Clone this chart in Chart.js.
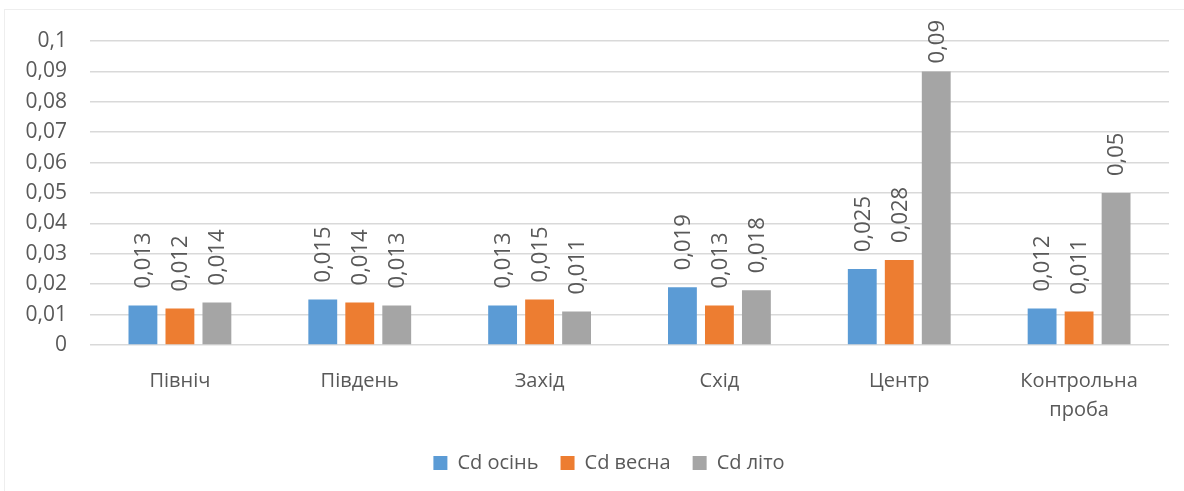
<!DOCTYPE html>
<html>
<head>
<meta charset="utf-8">
<script src="https://cdn.jsdelivr.net/npm/chart.js@4.4.0/dist/chart.umd.min.js"></script>
<style>
  html, body { margin: 0; padding: 0; background: #ffffff; }
  #wrap { width: 1184px; height: 491px; position: relative; }
</style>
</head>
<body>
<div id="wrap"><canvas id="c" width="1184" height="491"></canvas></div>
<script>
const categories = ["Північ", "Південь", "Захід", "Схід", "Центр", ["Контрольна", "проба"]];
const seriesNames = ["Cd осінь", "Cd весна", "Cd літо"];
const autumn = [0.013, 0.015, 0.013, 0.019, 0.025, 0.012];
const spring = [0.012, 0.014, 0.015, 0.013, 0.028, 0.011];
const summer = [0.014, 0.013, 0.011, 0.018, 0.09, 0.05];
const yMin = 0, yMax = 0.1, yStep = 0.01;

const colors = ["#5B9BD5", "#ED7D31", "#A5A5A5"];
const textColor = "#595959";
const fontFamily = "'Open Sans', 'Noto Sans', sans-serif";

function fmt(v) {
  return String(parseFloat(v.toFixed(3))).replace('.', ',');
}

const frame = {
  id: 'frame',
  beforeDraw(chart) {
    const ctx = chart.ctx;
    ctx.save();
    ctx.fillStyle = '#ffffff';
    ctx.fillRect(0, 0, chart.width, chart.height);
    ctx.strokeStyle = '#eeeeee';
    ctx.lineWidth = 1;
    ctx.strokeRect(4.5, 9.5, chart.width + 10, chart.height + 10);
    ctx.restore();
  }
};

const legendShift = {
  id: 'legendShift',
  afterLayout(chart) {
    if (chart.legend) {
      chart.legend.left += 22;
      chart.legend.right += 22;
    }
  }
};

const valueLabels = {
  id: 'valueLabels',
  afterDatasetsDraw(chart) {
    const ctx = chart.ctx;
    ctx.save();
    ctx.font = "22px " + fontFamily;
    ctx.fillStyle = textColor;
    ctx.textAlign = 'left';
    ctx.textBaseline = 'middle';
    chart.data.datasets.forEach((ds, di) => {
      const meta = chart.getDatasetMeta(di);
      meta.data.forEach((bar, i) => {
        const txt = fmt(ds.data[i]);
        const w = ctx.measureText(txt).width;
        let start = bar.y - 17;
        if (start - w < 20) start = 20 + w;
        ctx.save();
        ctx.translate(bar.x + 1, start);
        ctx.rotate(-Math.PI / 2);
        ctx.fillText(txt, 0, 0);
        ctx.restore();
      });
    });
    ctx.restore();
  }
};

new Chart(document.getElementById('c'), {
  type: 'bar',
  data: {
    labels: categories,
    datasets: [autumn, spring, summer].map((d, i) => ({
      label: seriesNames[i],
      data: d,
      backgroundColor: colors[i],
      borderWidth: 0,
      categoryPercentage: 0.617,
      barPercentage: 0.78
    }))
  },
  options: {
    responsive: false,
    animation: false,
    devicePixelRatio: 1,
    layout: { padding: { left: 5, right: 15, top: 41, bottom: 8 } },
    plugins: {
      legend: {
        position: 'bottom',
        labels: {
          color: textColor,
          font: { size: 20, family: fontFamily },
          boxWidth: 14,
          boxHeight: 14,
          padding: 22
        }
      },
      tooltip: { enabled: false }
    },
    scales: {
      x: {
        grid: { display: false, drawTicks: false },
        border: { display: false },
        ticks: {
          color: textColor,
          font: { size: 20, family: fontFamily, lineHeight: 1.45 },
          padding: 22,
          maxRotation: 0,
          autoSkip: false
        },
        afterFit(s) { s.height = 86; }
      },
      y: {
        min: yMin,
        max: yMax,
        grid: { color: '#d9d9d9', lineWidth: 1.5, drawTicks: false },
        border: { display: false },
        ticks: {
          stepSize: yStep,
          color: textColor,
          font: { size: 21, family: fontFamily },
          padding: 23,
          callback: (v) => fmt(v)
        },
        afterFit(s) { s.width = 85; }
      }
    }
  },
  plugins: [frame, legendShift, valueLabels]
});
</script>
</body>
</html>
